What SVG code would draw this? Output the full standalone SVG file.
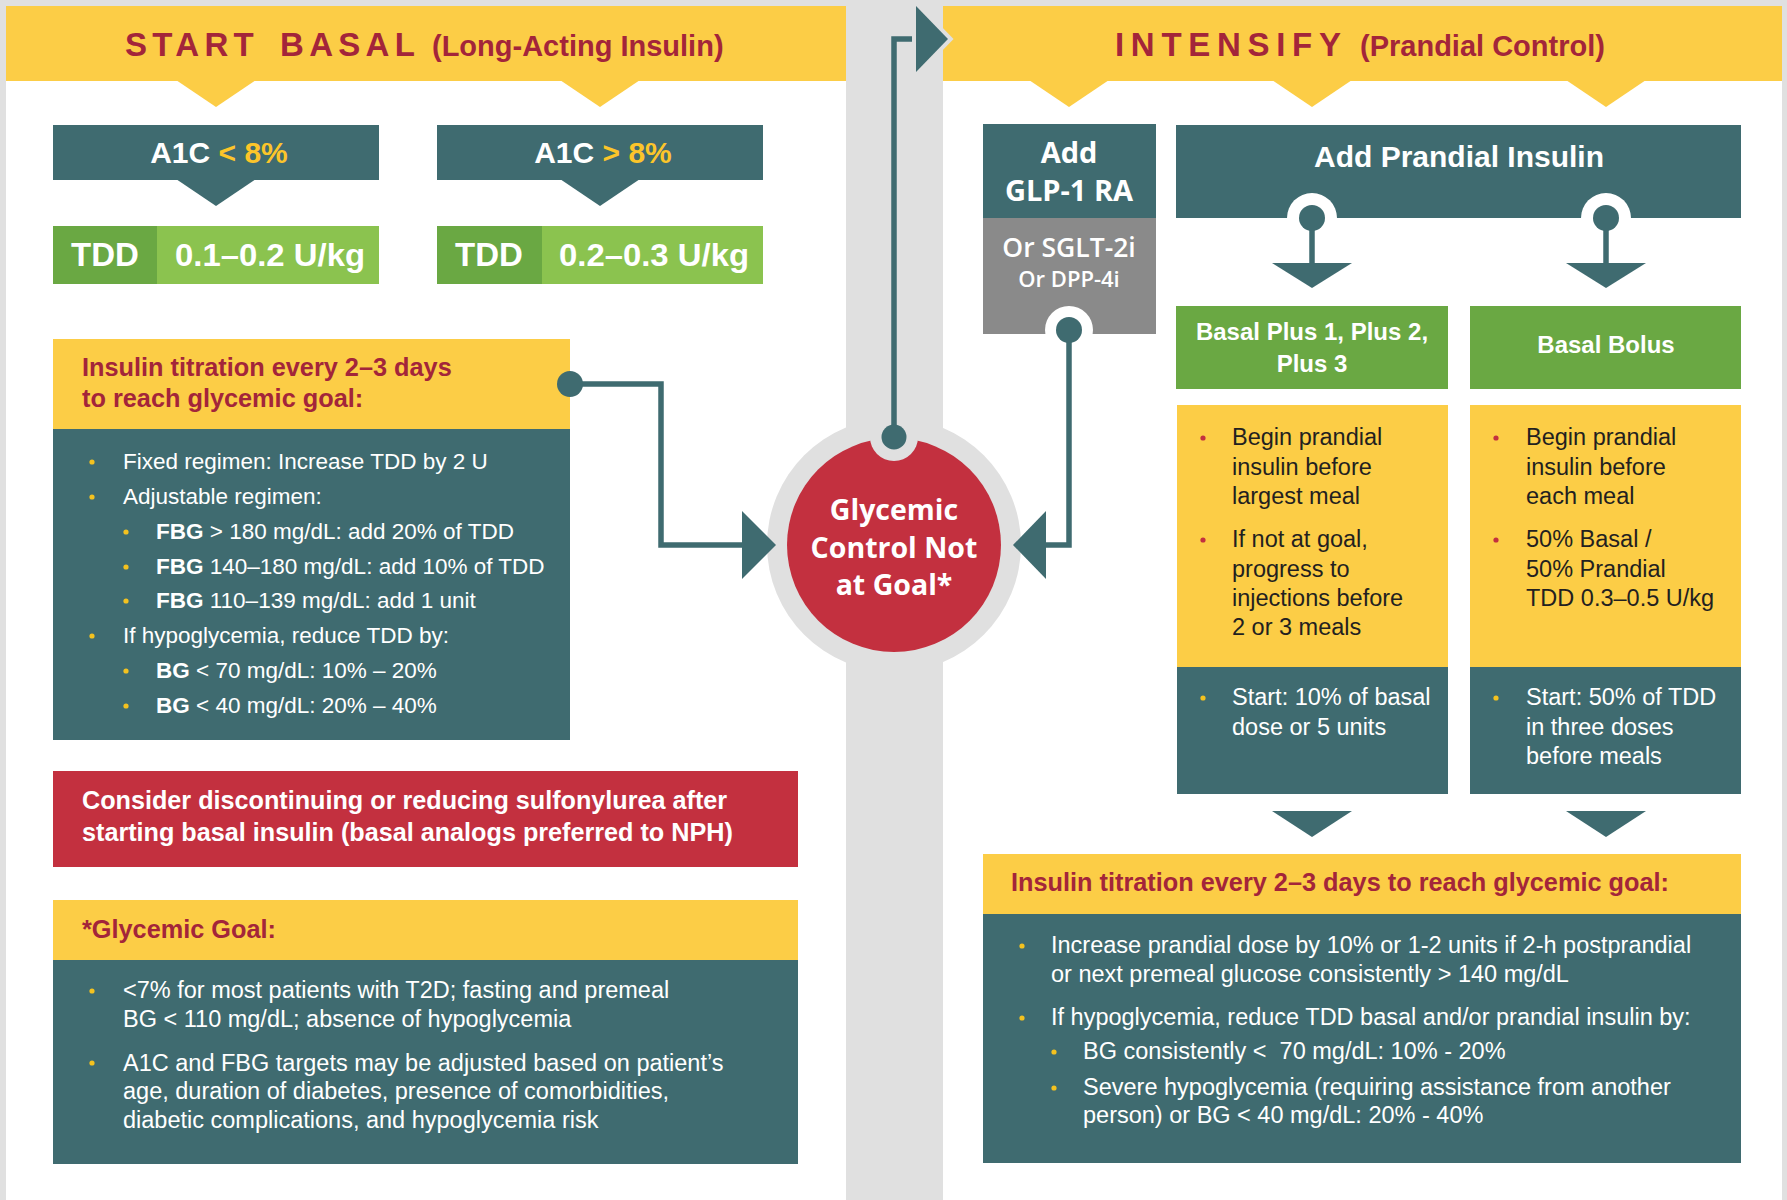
<svg xmlns="http://www.w3.org/2000/svg" width="1787" height="1200" viewBox="0 0 1787 1200">
<defs>
<style>
.teal{fill:#3f6b70}
.yel{fill:#fccd46}
.redf{fill:#c3303f}
.g1{fill:#6aa843}
.g2{fill:#8bc34f}
.grayf{fill:#8a8a8a}
.bg{fill:#e0e0e0}
.wh{fill:#ffffff}
text{font-family:"Liberation Sans",Arial,sans-serif}
.ttl{font-weight:700;fill:#a3253a}
.big{font-size:33px}
.sub{font-size:29px}
.hd{font-size:25.3px}
.b1{font-size:22.5px;fill:#ffffff}
.b2{font-size:23.5px;fill:#ffffff}
.bd{font-size:23.5px;fill:#231f20}
.bw{font-weight:700}
.wt{fill:#ffffff;font-weight:700}
.ytxt{fill:#fcc52a}
.os{font-family:"Open Sans","Liberation Sans",sans-serif;font-weight:600;fill:#ffffff}
.osb{font-weight:700}
.by{fill:#f4c21f}
.br{fill:#c3303f}
.line{fill:none;stroke:#3f6b70;stroke-width:5.5;stroke-linejoin:miter}
</style>
</defs>
<rect class="bg" x="0" y="0" width="1787" height="1200"/>
<g id="panel-left"><rect class="wh" x="6" y="6" width="840" height="1194"/></g>
<g id="panel-right"><rect class="wh" x="943" y="6" width="839" height="1194"/></g>

<g id="header-start-basal">
<rect class="yel" x="6" y="6" width="840" height="75"/>
<polygon class="yel" points="176,80 256,80 216,107"/>
<polygon class="yel" points="560,80 640,80 600,107"/>
<text class="ttl big" x="125" y="56" letter-spacing="5.3">START</text>
<text class="ttl big" x="280" y="56" letter-spacing="5.3">BASAL</text>
<text class="ttl sub" x="432" y="56">(Long-Acting Insulin)</text>
</g>

<g id="header-intensify">
<rect class="yel" x="943" y="6" width="839" height="75"/>
<polygon class="yel" points="1029,80 1109,80 1069,107"/>
<polygon class="yel" points="1272,80 1352,80 1312,107"/>
<polygon class="yel" points="1566,80 1646,80 1606,107"/>
<text class="ttl big" x="1115" y="56" letter-spacing="6.7">INTENSIFY</text>
<text class="ttl sub" x="1360" y="56">(Prandial Control)</text>
</g>

<g id="a1c-lt8">
<rect class="teal" x="53" y="125" width="326" height="55"/>
<polygon class="teal" points="176,179 256,179 216,206"/>
<text class="wt" x="219" y="163" font-size="30" text-anchor="middle">A1C <tspan class="ytxt">&lt; 8%</tspan></text>
</g>
<g id="a1c-gt8">
<rect class="teal" x="437" y="125" width="326" height="55"/>
<polygon class="teal" points="560,179 640,179 600,206"/>
<text class="wt" x="603" y="163" font-size="30" text-anchor="middle">A1C <tspan class="ytxt">&gt; 8%</tspan></text>
</g>

<g id="tdd-1">
<rect class="g2" x="53" y="226" width="326" height="58"/>
<rect class="g1" x="53" y="226" width="104" height="58"/>
<text class="wt" x="105" y="266" font-size="33" text-anchor="middle">TDD</text>
<text class="wt" x="270" y="266" font-size="31" text-anchor="middle" textLength="190" lengthAdjust="spacingAndGlyphs">0.1–0.2 U/kg</text>
</g>
<g id="tdd-2">
<rect class="g2" x="437" y="226" width="326" height="58"/>
<rect class="g1" x="437" y="226" width="105" height="58"/>
<text class="wt" x="489" y="266" font-size="33" text-anchor="middle">TDD</text>
<text class="wt" x="654" y="266" font-size="31" text-anchor="middle" textLength="190" lengthAdjust="spacingAndGlyphs">0.2–0.3 U/kg</text>
</g>

<g id="titration-basal">
<rect class="yel" x="53" y="339" width="517" height="90"/>
<rect class="teal" x="53" y="429" width="517" height="311"/>
<text class="ttl hd" x="82" y="376">Insulin titration every 2–3 days</text>
<text class="ttl hd" x="82" y="407">to reach glycemic goal:</text>
<circle class="by" cx="92" cy="462" r="2.6"/>
<circle class="by" cx="92" cy="497" r="2.6"/>
<circle class="by" cx="126" cy="532" r="2.6"/>
<circle class="by" cx="126" cy="567" r="2.6"/>
<circle class="by" cx="126" cy="601" r="2.6"/>
<circle class="by" cx="92" cy="636" r="2.6"/>
<circle class="by" cx="126" cy="671" r="2.6"/>
<circle class="by" cx="126" cy="706" r="2.6"/>
<text class="b1" x="123" y="469">Fixed regimen: Increase TDD by 2 U</text>
<text class="b1" x="123" y="504">Adjustable regimen:</text>
<text class="b1" x="156" y="539"><tspan class="bw">FBG</tspan> &gt; 180 mg/dL: add 20% of TDD</text>
<text class="b1" x="156" y="574"><tspan class="bw">FBG</tspan> 140–180 mg/dL: add 10% of TDD</text>
<text class="b1" x="156" y="608"><tspan class="bw">FBG</tspan> 110–139 mg/dL: add 1 unit</text>
<text class="b1" x="123" y="643">If hypoglycemia, reduce TDD by:</text>
<text class="b1" x="156" y="678"><tspan class="bw">BG</tspan> &lt; 70 mg/dL: 10% – 20%</text>
<text class="b1" x="156" y="713"><tspan class="bw">BG</tspan> &lt; 40 mg/dL: 20% – 40%</text>
</g>

<g id="sulfonylurea-note">
<rect class="redf" x="53" y="771" width="745" height="96"/>
<text class="wt" x="82" y="809" font-size="25.2">Consider discontinuing or reducing sulfonylurea after</text>
<text class="wt" x="82" y="841" font-size="25.2">starting basal insulin (basal analogs preferred to NPH)</text>
</g>

<g id="glycemic-goal">
<rect class="yel" x="53" y="900" width="745" height="60"/>
<rect class="teal" x="53" y="960" width="745" height="204"/>
<text class="ttl hd" x="82" y="938">*Glycemic Goal:</text>
<circle class="by" cx="92" cy="991" r="2.6"/>
<circle class="by" cx="92" cy="1063" r="2.6"/>
<text class="b2" x="123" y="998">&lt;7% for most patients with T2D; fasting and premeal</text>
<text class="b2" x="123" y="1027">BG &lt; 110 mg/dL; absence of hypoglycemia</text>
<text class="b2" x="123" y="1071">A1C and FBG targets may be adjusted based on patient’s</text>
<text class="b2" x="123" y="1099">age, duration of diabetes, presence of comorbidities,</text>
<text class="b2" x="123" y="1128">diabetic complications, and hypoglycemia risk</text>
</g>

<g id="glp1">
<rect class="teal" x="983" y="124" width="173" height="95"/>
<rect class="grayf" x="983" y="218" width="173" height="116"/>
<text class="os osb" x="1069" y="163" font-size="29" text-anchor="middle">Add</text>
<text class="os osb" x="1069" y="201" font-size="29" text-anchor="middle">GLP-1 RA</text>
<text class="os" x="1069" y="257" font-size="26.5" text-anchor="middle">Or SGLT-2i</text>
<text class="os" x="1069" y="287" font-size="22" text-anchor="middle">Or DPP-4i</text>
<circle class="wh" cx="1069" cy="330" r="24"/>
</g>

<g id="add-prandial">
<rect class="teal" x="1176" y="125" width="565" height="93"/>
<text class="wt" x="1459" y="167" font-size="30" text-anchor="middle">Add Prandial Insulin</text>
<circle class="wh" cx="1312" cy="218" r="25"/>
<circle class="wh" cx="1606" cy="218" r="25"/>
</g>

<g id="basal-plus">
<rect class="g1" x="1176" y="306" width="272" height="83"/>
<text class="wt" x="1312" y="340" font-size="24" text-anchor="middle">Basal Plus 1, Plus 2,</text>
<text class="wt" x="1312" y="372" font-size="24" text-anchor="middle">Plus 3</text>
<rect class="yel" x="1177" y="405" width="271" height="262"/>
<rect class="teal" x="1177" y="667" width="271" height="127"/>
<circle class="br" cx="1203" cy="438" r="2.6"/>
<circle class="br" cx="1203" cy="540" r="2.6"/>
<text class="bd" x="1232" y="445">Begin prandial</text>
<text class="bd" x="1232" y="475">insulin before</text>
<text class="bd" x="1232" y="504">largest meal</text>
<text class="bd" x="1232" y="547">If not at goal,</text>
<text class="bd" x="1232" y="577">progress to</text>
<text class="bd" x="1232" y="606">injections before</text>
<text class="bd" x="1232" y="635">2 or 3 meals</text>
<circle class="by" cx="1203" cy="698" r="2.6"/>
<text class="b2" x="1232" y="705">Start: 10% of basal</text>
<text class="b2" x="1232" y="735">dose or 5 units</text>
</g>

<g id="basal-bolus">
<rect class="g1" x="1470" y="306" width="271" height="83"/>
<text class="wt" x="1606" y="353" font-size="24" text-anchor="middle">Basal Bolus</text>
<rect class="yel" x="1470" y="405" width="271" height="262"/>
<rect class="teal" x="1470" y="667" width="271" height="127"/>
<circle class="br" cx="1496" cy="438" r="2.6"/>
<circle class="br" cx="1496" cy="540" r="2.6"/>
<text class="bd" x="1526" y="445">Begin prandial</text>
<text class="bd" x="1526" y="475">insulin before</text>
<text class="bd" x="1526" y="504">each meal</text>
<text class="bd" x="1526" y="547">50% Basal /</text>
<text class="bd" x="1526" y="577">50% Prandial</text>
<text class="bd" x="1526" y="606">TDD 0.3–0.5 U/kg</text>
<circle class="by" cx="1496" cy="698" r="2.6"/>
<text class="b2" x="1526" y="705">Start: 50% of TDD</text>
<text class="b2" x="1526" y="735">in three doses</text>
<text class="b2" x="1526" y="764">before meals</text>
</g>

<g id="titration-prandial">
<rect class="yel" x="983" y="854" width="758" height="60"/>
<rect class="teal" x="983" y="914" width="758" height="249"/>
<text class="ttl hd" x="1011" y="891">Insulin titration every 2–3 days to reach glycemic goal:</text>
<circle class="by" cx="1022" cy="946" r="2.6"/>
<circle class="by" cx="1022" cy="1018" r="2.6"/>
<circle class="by" cx="1054" cy="1052" r="2.6"/>
<circle class="by" cx="1054" cy="1088" r="2.6"/>
<text class="b2" x="1051" y="953">Increase prandial dose by 10% or 1-2 units if 2-h postprandial</text>
<text class="b2" x="1051" y="982">or next premeal glucose consistently &gt; 140 mg/dL</text>
<text class="b2" x="1051" y="1025">If hypoglycemia, reduce TDD basal and/or prandial insulin by:</text>
<text class="b2" x="1083" y="1059">BG consistently &lt;&#160; 70 mg/dL: 10% - 20%</text>
<text class="b2" x="1083" y="1095">Severe hypoglycemia (requiring assistance from another</text>
<text class="b2" x="1083" y="1123">person) or BG &lt; 40 mg/dL: 20% - 40%</text>
</g>

<g id="not-at-goal">
<circle class="bg" cx="894" cy="545" r="127"/>
<circle class="redf" cx="894" cy="545" r="107"/>
<circle class="bg" cx="894" cy="437" r="24"/>
<text class="os osb" x="894" y="520" font-size="28.5" text-anchor="middle">Glycemic</text>
<text class="os osb" x="894" y="558" font-size="28.5" text-anchor="middle">Control Not</text>
<text class="os osb" x="894" y="595" font-size="28.5" text-anchor="middle">at Goal*</text>
</g>

<g id="connectors">
<polyline class="line" points="570,384 661,384 661,545 744,545"/>
<polygon class="teal" points="742,511 776,545 742,579"/>
<circle class="teal" cx="570" cy="384" r="13"/>
<polyline class="line" points="1069,330 1069,545 1043,545"/>
<polygon class="teal" points="1046,511 1013,545 1046,579"/>
<circle class="teal" cx="1069" cy="330" r="13"/>
<polyline class="line" points="894,437 894,39 918,39"/>
<polygon points="916,6 948,39 916,72" fill="#e0e0e0" stroke="#e0e0e0" stroke-width="8" stroke-linejoin="miter"/>
<polygon class="teal" points="916,6 948,39 916,72"/>
<circle class="teal" cx="894" cy="437" r="12.5"/>
<line class="line" x1="1312" y1="218" x2="1312" y2="265"/>
<polygon class="teal" points="1272,263 1352,263 1312,288"/>
<circle class="teal" cx="1312" cy="218" r="13"/>
<line class="line" x1="1606" y1="218" x2="1606" y2="265"/>
<polygon class="teal" points="1566,263 1646,263 1606,288"/>
<circle class="teal" cx="1606" cy="218" r="13"/>
<polygon class="teal" points="1272,811 1352,811 1312,837"/>
<polygon class="teal" points="1566,811 1646,811 1606,837"/>
</g>
</svg>
